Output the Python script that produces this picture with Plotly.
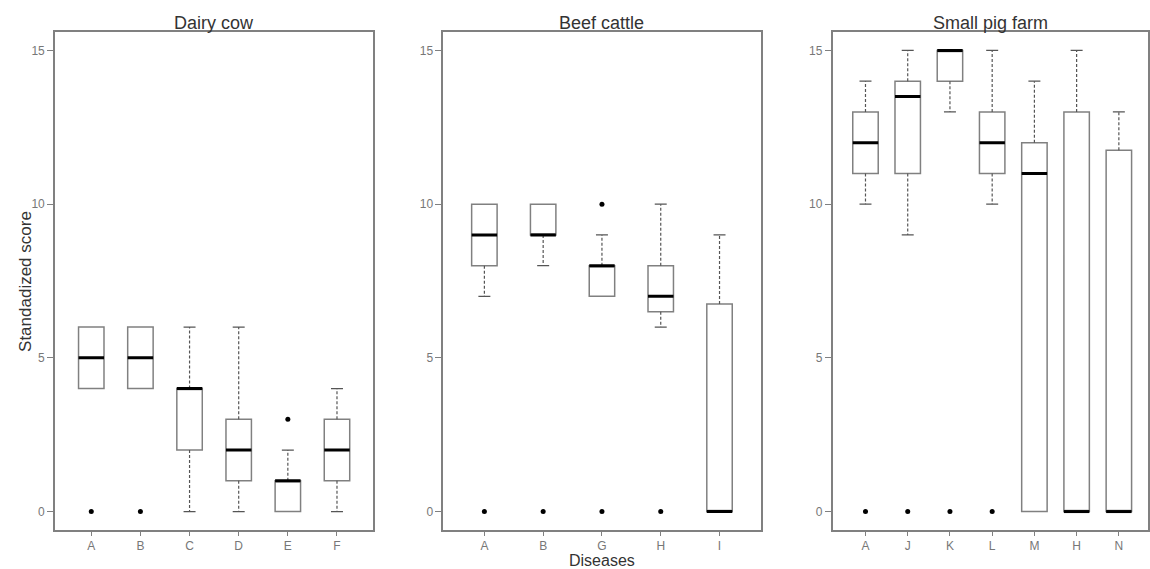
import plotly.graph_objects as go

W, H = 1150, 569

panel_titles = ["Dairy cow", "Beef cattle", "Small pig farm"]

dairy_labels = ["A", "B", "C", "D", "E", "F"]
dairy_q1 = [4, 4, 2, 1, 0, 1]
dairy_med = [5, 5, 4, 2, 1, 2]
dairy_q3 = [6, 6, 4, 3, 1, 3]
dairy_lo = [4, 4, 0, 0, 0, 0]
dairy_hi = [6, 6, 6, 6, 2, 4]
dairy_out = [[0], [0], [], [], [3], []]

beef_labels = ["A", "B", "G", "H", "I"]
beef_q1 = [8, 9, 7, 6.5, 0]
beef_med = [9, 9, 8, 7, 0]
beef_q3 = [10, 10, 8, 8, 6.75]
beef_lo = [7, 8, 7, 6, 0]
beef_hi = [10, 10, 9, 10, 9]
beef_out = [[0], [0], [0, 10], [0], []]

pig_labels = ["A", "J", "K", "L", "M", "H", "N"]
pig_q1 = [11, 11, 14, 11, 0, 0, 0]
pig_med = [12, 13.5, 15, 12, 11, 0, 0]
pig_q3 = [13, 14, 15, 13, 12, 13, 11.75]
pig_lo = [10, 9, 13, 10, 0, 0, 0]
pig_hi = [14, 15, 15, 15, 14, 15, 13]
pig_out = [[0], [0], [0], [0], [], [], []]

y_ticks = [0, 5, 10, 15]

panels = [
    (dairy_labels, dairy_q1, dairy_med, dairy_q3, dairy_lo, dairy_hi, dairy_out),
    (beef_labels, beef_q1, beef_med, beef_q3, beef_lo, beef_hi, beef_out),
    (pig_labels, pig_q1, pig_med, pig_q3, pig_lo, pig_hi, pig_out),
]

# layout geometry (pixels)
px_domains = [(55, 374), (444, 762), (834, 1150)]
x_ranges = [(0.26, 6.74), (0.3, 5.7), (0.22, 7.69)]
y_top_px, y_bot_px = 32, 530
y_range = [-0.6, 15.6]
box_px = 25.5
cap_px = 12

GREY = "#808080"
TICKGREY = "#777777"
DARK = "#333333"

fig = go.Figure()
layout = dict(
    width=W, height=H,
    margin=dict(l=0, r=0, t=0, b=0),
    paper_bgcolor="white", plot_bgcolor="white",
    showlegend=False,
    font=dict(family="Liberation Sans, Arial, sans-serif"),
)
annotations = []

for i, (labels, q1, med, q3, lo, hi, out) in enumerate(panels):
    n = i + 1
    xa = "x" if n == 1 else f"x{n}"
    ya = "y" if n == 1 else f"y{n}"
    d0, d1 = px_domains[i]
    r0, r1 = x_ranges[i]
    ppu = (d1 - d0) / (r1 - r0)
    bw = box_px / ppu
    cw = cap_px / ppu
    pos = list(range(1, len(labels) + 1))

    for k, p in enumerate(pos):
        fig.add_trace(go.Box(
            x=[p], q1=[q1[k]], median=[med[k]], q3=[q3[k]],
            lowerfence=[q1[k]], upperfence=[q3[k]],
            width=bw, orientation="v", whiskerwidth=0,
            line=dict(color=GREY, width=1.5), fillcolor="white",
            boxpoints=False, xaxis=xa, yaxis=ya, hoverinfo="skip",
        ))

    wx, wy, cx, cy, mx, my, ox, oy = [], [], [], [], [], [], [], []
    for k, p in enumerate(pos):
        if hi[k] > q3[k]:
            wx += [p, p, None]; wy += [q3[k], hi[k], None]
            cx += [p - cw / 2, p + cw / 2, None]; cy += [hi[k], hi[k], None]
        if lo[k] < q1[k]:
            wx += [p, p, None]; wy += [q1[k], lo[k], None]
            cx += [p - cw / 2, p + cw / 2, None]; cy += [lo[k], lo[k], None]
        mx += [p - bw / 2, p + bw / 2, None]; my += [med[k], med[k], None]
        for v in out[k]:
            ox.append(p); oy.append(v)

    fig.add_trace(go.Scatter(x=wx, y=wy, mode="lines", xaxis=xa, yaxis=ya,
                             line=dict(color="#555555", width=1.2, dash="3px,2px"),
                             hoverinfo="skip"))
    fig.add_trace(go.Scatter(x=cx, y=cy, mode="lines", xaxis=xa, yaxis=ya,
                             line=dict(color="#555555", width=1.2), hoverinfo="skip"))
    fig.add_trace(go.Scatter(x=mx, y=my, mode="lines", xaxis=xa, yaxis=ya,
                             line=dict(color="black", width=3), hoverinfo="skip"))
    fig.add_trace(go.Scatter(x=ox, y=oy, mode="markers", xaxis=xa, yaxis=ya,
                             marker=dict(color="black", size=5), hoverinfo="skip"))

    xkey = "xaxis" if n == 1 else f"xaxis{n}"
    ykey = "yaxis" if n == 1 else f"yaxis{n}"
    layout[xkey] = dict(
        domain=[d0 / W, d1 / W], range=[r0, r1], anchor=ya,
        tickmode="array", tickvals=pos, ticktext=labels,
        showline=True, mirror=True, linecolor=GREY, linewidth=1.5,
        ticks="outside", ticklen=4, tickcolor=GREY, tickwidth=1,
        showgrid=False, zeroline=False,
        tickfont=dict(size=12, color=TICKGREY),
    )
    layout[ykey] = dict(
        domain=[1 - y_bot_px / H, 1 - y_top_px / H], range=y_range, anchor=xa,
        tickmode="array", tickvals=y_ticks, ticktext=[str(t) for t in y_ticks],
        showline=True, mirror=True, linecolor=GREY, linewidth=1.5,
        ticks="outside", ticklen=6, tickcolor=GREY, tickwidth=1,
        showgrid=False, zeroline=False,
        tickfont=dict(size=12, color=TICKGREY),
    )
    annotations.append(dict(
        text=panel_titles[i], x=(d0 + d1) / 2 / W, y=1 - 23 / H,
        xref="paper", yref="paper", xanchor="center", yanchor="middle",
        showarrow=False, font=dict(size=18, color=DARK),
    ))

annotations.append(dict(
    text="Standadized score", x=25 / W, y=1 - 281 / H, xref="paper", yref="paper",
    xanchor="center", yanchor="middle", textangle=-90, showarrow=False,
    font=dict(size=17, color=DARK),
))
annotations.append(dict(
    text="Diseases", x=603 / W, y=0, xref="paper", yref="paper",
    xanchor="center", yanchor="bottom", yshift=-2, showarrow=False,
    font=dict(size=16, color=DARK),
))
layout["annotations"] = annotations

fig.update_layout(**layout)
fig.write_html("out.html")
